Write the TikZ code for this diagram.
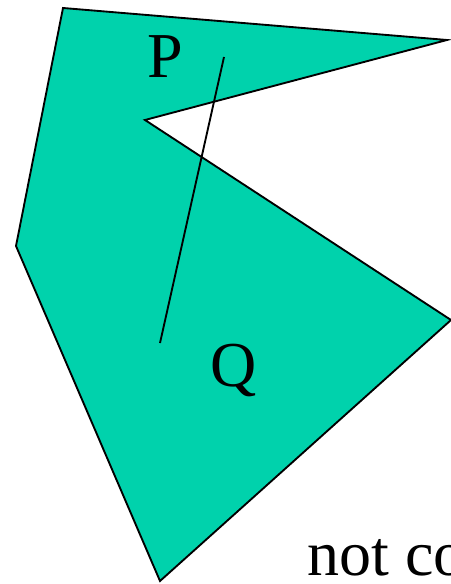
\documentclass[tikz,border=0pt]{standalone}
\usepackage{fontspec}
\setmainfont{Liberation Serif}
\usepackage{xcolor}
\definecolor{regionColor}{RGB}{0,210,172}

\begin{document}
\begin{tikzpicture}[x=0.75pt, y=-0.75pt,
    label/.style={inner sep=0pt, font=\fontsize{48}{54}\selectfont}]
    \useasboundingbox (0,0) rectangle (450,584);
    % non-convex region
    \draw[fill=regionColor, line width=1.4pt, line join=miter]
        (63,8) -- (447,40) -- (145,120) -- (451,320) -- (160,581) -- (16,246) -- cycle;
    % segment PQ leaving the region
    \coordinate (p) at (224,57);
    \coordinate (q) at (160,343);
    \draw[line width=1.4pt] (p) -- (q);
    \node[label, anchor=base] (plabel) at (165,78) {P};
    \node[label, anchor=base] (qlabel) at (234,386) {Q};
    \node[label, anchor=base west] (caption) at (307,575) {not co};
\end{tikzpicture}
\end{document}
